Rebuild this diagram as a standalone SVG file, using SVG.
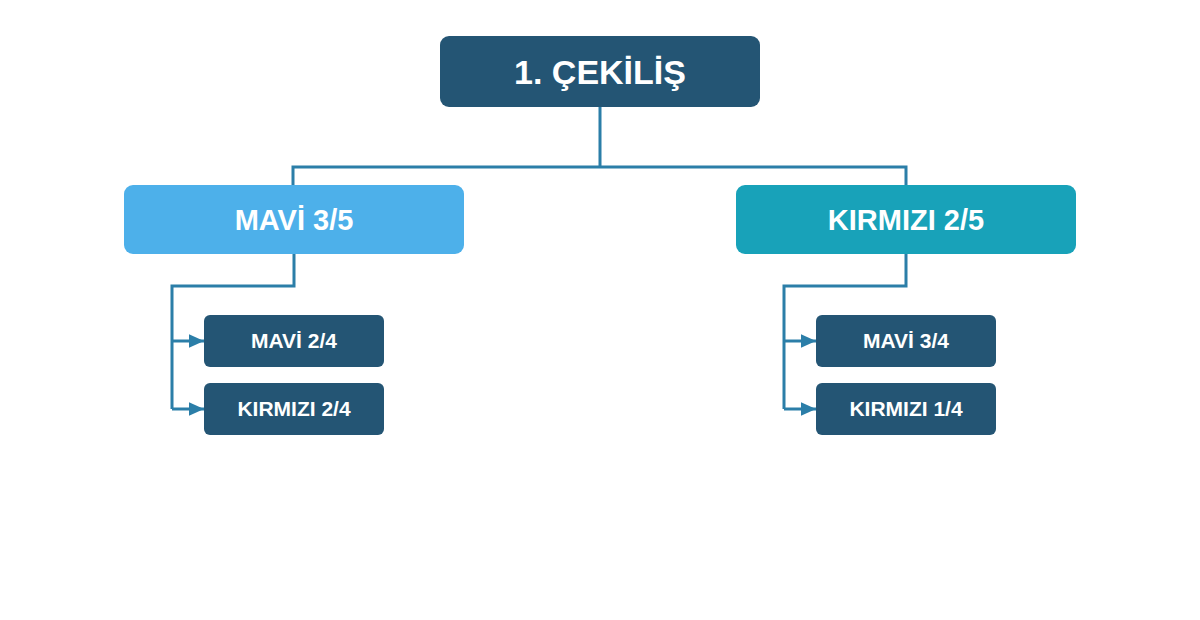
<svg xmlns="http://www.w3.org/2000/svg" width="1200" height="620" viewBox="0 0 1200 620">
<style>
.t{font-family:"Liberation Sans",Arial,sans-serif;font-weight:bold;fill:#fff;text-anchor:middle}
.dark{fill:#245574}
.c{fill:none;stroke:#2B7EA8;stroke-width:3}
</style>
<defs>
<marker id="ah" viewBox="0 0 10 10" refX="10" refY="5" markerWidth="5" markerHeight="5" orient="auto" markerUnits="strokeWidth">
<path d="M0,0.5 L10,5 L0,9.5 z" fill="#2B7EA8"/>
</marker>
</defs>
<rect width="1200" height="620" fill="#fff"/>
<g id="connectors">
<path class="c" d="M600,107 V167 M293,185 V167 H906 V185"/>
<path class="c" d="M294,254 V286 H172 V409"/>
<path class="c" d="M172,341 H204" marker-end="url(#ah)"/>
<path class="c" d="M172,409 H204" marker-end="url(#ah)"/>
<path class="c" d="M906,254 V286 H784 V409"/>
<path class="c" d="M784,341 H816" marker-end="url(#ah)"/>
<path class="c" d="M784,409 H816" marker-end="url(#ah)"/>
</g>
<g id="root">
<rect class="dark" x="440" y="36" width="320" height="71" rx="9"/>
<text class="t" x="600" y="84" font-size="34">1. ÇEKİLİŞ</text>
</g>
<g id="mavi35">
<rect x="124" y="185" width="340" height="69" rx="9" fill="#4DB0EA"/>
<text class="t" x="294" y="230" font-size="29">MAVİ 3/5</text>
</g>
<g id="kirmizi25">
<rect x="736" y="185" width="340" height="69" rx="9" fill="#18A2B9"/>
<text class="t" x="906" y="230" font-size="29">KIRMIZI 2/5</text>
</g>
<g id="mavi24">
<rect class="dark" x="204" y="315" width="180" height="52" rx="6"/>
<text class="t" x="294" y="348" font-size="21">MAVİ 2/4</text>
</g>
<g id="kirmizi24">
<rect class="dark" x="204" y="383" width="180" height="52" rx="6"/>
<text class="t" x="294" y="416" font-size="21">KIRMIZI 2/4</text>
</g>
<g id="mavi34">
<rect class="dark" x="816" y="315" width="180" height="52" rx="6"/>
<text class="t" x="906" y="348" font-size="21">MAVİ 3/4</text>
</g>
<g id="kirmizi14">
<rect class="dark" x="816" y="383" width="180" height="52" rx="6"/>
<text class="t" x="906" y="416" font-size="21">KIRMIZI 1/4</text>
</g>
</svg>
